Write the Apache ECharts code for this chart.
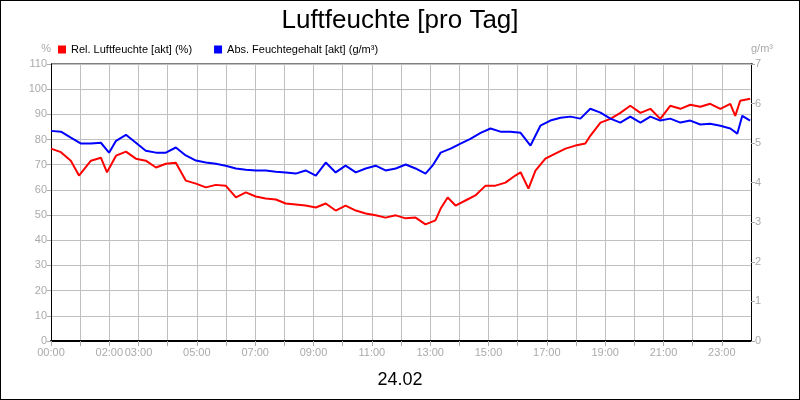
<!DOCTYPE html>
<html>
<head>
<meta charset="utf-8">
<script src="https://cdn.jsdelivr.net/npm/echarts@6/dist/echarts.min.js"></script>
<style>
html,body{margin:0;padding:0;background:#fff;}
#chart{width:798px;height:398px;border:1px solid #000;}
</style>
</head>
<body>
<div id="chart"></div>
<script>
// Uhrzeit in Stunden
var relTimes = [0,0.34,0.68,0.96,1.37,1.71,1.92,2.23,2.57,2.91,3.25,3.6,3.94,4.28,4.62,4.97,5.31,5.65,5.99,6.34,6.68,7.02,7.36,7.71,8.05,8.39,8.73,9.08,9.42,9.76,10.1,10.45,10.79,11.13,11.47,11.82,12.16,12.5,12.84,13.18,13.36,13.6,13.87,14.21,14.55,14.9,15.24,15.58,15.92,16.1,16.37,16.61,16.95,17.29,17.64,17.98,18.32,18.49,18.84,19.18,19.52,19.86,20.21,20.55,20.89,21.23,21.58,21.92,22.26,22.6,22.95,23.29,23.46,23.63,23.97];
var relValues = [76.4,75,71.6,65.7,71.6,72.8,67,73.6,75.2,72.4,71.6,68.9,70.4,70.8,63.7,62.5,61,62,61.7,57,59,57.4,56.6,56.2,54.6,54.2,53.8,53,54.6,51.8,53.8,51.8,50.6,49.9,49,49.9,48.7,49,46.3,47.9,52.6,57,53.8,55.8,57.8,61.7,61.7,62.9,65.7,67,60.5,67.7,72.4,74.4,76.4,77.6,78.4,81.5,86.7,88.2,90.6,93.4,90.6,92.2,88.2,93.4,92.2,93.8,93,94.2,92.2,94.2,89.4,95.4,96.2];

var absTimes = [0,0.34,0.68,1.03,1.37,1.71,1.99,2.23,2.57,2.91,3.25,3.6,3.94,4.28,4.62,4.97,5.31,5.65,5.99,6.34,6.68,7.02,7.36,7.71,8.05,8.39,8.73,9.08,9.42,9.76,10.1,10.45,10.79,11.13,11.47,11.82,12.16,12.5,12.84,13.08,13.36,13.7,14.04,14.38,14.73,15.07,15.41,15.75,16.1,16.44,16.78,17.12,17.47,17.81,18.15,18.49,18.84,19.18,19.52,19.86,20.21,20.55,20.89,21.23,21.58,21.92,22.26,22.6,22.95,23.29,23.53,23.7,23.97];
var absValues = [5.31,5.29,5.14,4.99,4.99,5.01,4.76,5.06,5.21,5.01,4.81,4.76,4.76,4.89,4.69,4.56,4.51,4.48,4.43,4.36,4.33,4.31,4.31,4.28,4.26,4.23,4.31,4.18,4.51,4.26,4.43,4.26,4.36,4.43,4.31,4.36,4.46,4.36,4.23,4.43,4.76,4.86,4.99,5.11,5.26,5.37,5.29,5.29,5.26,4.94,5.44,5.57,5.64,5.67,5.62,5.87,5.77,5.62,5.52,5.67,5.52,5.67,5.57,5.62,5.52,5.57,5.47,5.49,5.44,5.37,5.24,5.69,5.57];

var shownHours = [0,2,3,5,7,9,11,13,15,17,19,21,23];

function pairs(t, v) {
    var out = [];
    for (var i = 0; i < t.length; i++) {
        out.push([t[i], v[i]]);
    }
    return out;
}

var font = 'Liberation Sans, Arial, sans-serif';
var myCharts = echarts.init(document.getElementById('chart'));
var option = {
    backgroundColor: '#fff',
    animation: false,
    textStyle: { fontFamily: font },
    title: [{
        text: 'Luftfeuchte [pro Tag]',
        left: 'center',
        top: 2,
        textStyle: { fontSize: 26, fontWeight: 'normal', color: '#000', fontFamily: font }
    }, {
        text: '24.02',
        left: 'center',
        top: 365,
        textStyle: { fontSize: 18, fontWeight: 'normal', color: '#000', fontFamily: font }
    }],
    legend: {
        left: 52,
        top: 38,
        itemWidth: 8,
        itemHeight: 8,
        itemGap: 22,
        icon: 'rect',
        textStyle: { fontSize: 11, color: '#000', fontFamily: font },
        data: ['Rel. Luftfeuchte [akt] (%)', 'Abs. Feuchtegehalt [akt] (g/m³)']
    },
    grid: { left: 50, right: 48, top: 63, bottom: 58 },
    xAxis: {
        type: 'value',
        min: 0,
        max: 24,
        interval: 1,
        axisLine: { show: true, lineStyle: { color: '#000', width: 2 } },
        axisTick: { show: true, length: 5, lineStyle: { color: '#aaa' } },
        axisLabel: {
            color: '#aaa',
            fontSize: 11,
            margin: 6,
            showMaxLabel: false,
            formatter: function (v) {
                if (shownHours.indexOf(v) < 0) return '';
                return (v < 10 ? '0' : '') + v + ':00';
            }
        },
        splitLine: { show: true, lineStyle: { color: '#c0c0c0' } }
    },
    yAxis: [{
        type: 'value',
        name: '%',
        nameGap: 10,
        nameTextStyle: { color: '#aaa', fontSize: 11, align: 'right', padding: [0, 0, 0, 0] },
        min: 0,
        max: 110,
        interval: 10,
        axisLine: { show: true, lineStyle: { color: '#000' } },
        axisTick: { show: true, length: 4, lineStyle: { color: '#aaa' } },
        axisLabel: { color: '#aaa', fontSize: 11, margin: 4 },
        splitLine: { show: true, lineStyle: { color: '#c0c0c0' } }
    }, {
        type: 'value',
        name: 'g/m³',
        nameGap: 10,
        nameTextStyle: { color: '#aaa', fontSize: 11, align: 'left' },
        min: 0,
        max: 7,
        interval: 1,
        position: 'right',
        axisLine: { show: true, lineStyle: { color: '#000' } },
        axisTick: { show: true, length: 4, lineStyle: { color: '#aaa' } },
        axisLabel: { color: '#aaa', fontSize: 11, margin: 4 },
        splitLine: { show: false }
    }],
    graphic: [{
        type: 'line',
        shape: { x1: 50, y1: 63, x2: 752, y2: 63 },
        style: { stroke: '#000', lineWidth: 1 }
    }],
    series: [{
        name: 'Rel. Luftfeuchte [akt] (%)',
        type: 'line',
        showSymbol: false,
        color: '#ff0000',
        lineStyle: { width: 2, color: '#ff0000' },
        data: pairs(relTimes, relValues)
    }, {
        name: 'Abs. Feuchtegehalt [akt] (g/m³)',
        type: 'line',
        yAxisIndex: 1,
        showSymbol: false,
        color: '#0000ff',
        lineStyle: { width: 2, color: '#0000ff' },
        data: pairs(absTimes, absValues)
    }]
};
myCharts.setOption(option);
</script>
</body>
</html>
